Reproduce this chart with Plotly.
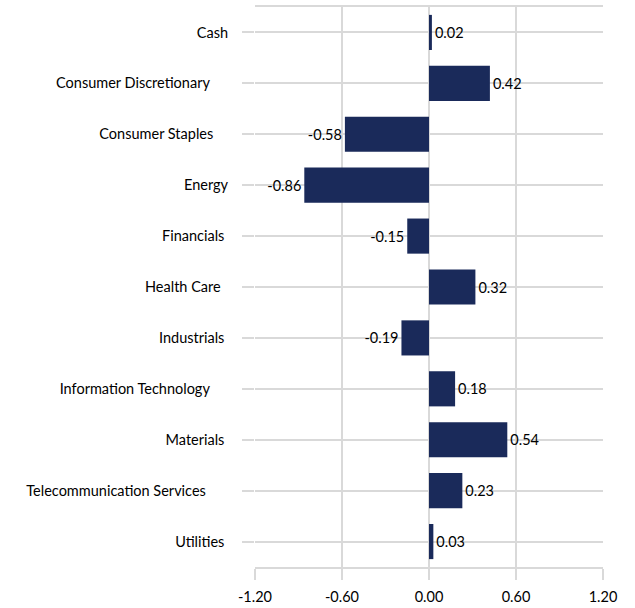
import plotly.graph_objects as go

categories = ["Cash", "Consumer Discretionary", "Consumer Staples", "Energy", "Financials",
              "Health Care", "Industrials", "Information Technology", "Materials",
              "Telecommunication Services", "Utilities"]
trailing_spaces = [0, 5, 4, 0, 1, 2, 1, 5, 1, 6, 1]
values = [0.02, 0.42, -0.58, -0.86, -0.15, 0.32, -0.19, 0.18, 0.54, 0.23, 0.03]
x_ticks = [-1.2, -0.6, 0.0, 0.6, 1.2]

labels = [c + "\u00a0" * n for c, n in zip(categories, trailing_spaces)]
FONT = "Lato"
FS = 14.5
GRID = "#d9d9d9"

fig = go.Figure(go.Bar(
    y=labels, x=values, orientation="h",
    marker=dict(color="#1a2a5a", line=dict(width=0)),
    text=[f"{v:.2f}" for v in values], textposition="outside",
    textfont=dict(family=FONT, size=FS, color="#000000"),
    cliponaxis=False,
))

fig.update_layout(
    width=635, height=608,
    margin=dict(l=255, r=32, t=7, b=41),
    paper_bgcolor="white", plot_bgcolor="white",
    showlegend=False, bargap=0.31,
    font=dict(family=FONT, size=FS, color="#000000"),
    xaxis=dict(range=[-1.2, 1.2], tickvals=x_ticks, ticktext=[f"{t:.2f}" for t in x_ticks],
               showgrid=True, gridcolor=GRID, gridwidth=1.5, zeroline=False,
               ticks="outside", ticklen=11, tickcolor=GRID, tickwidth=1.5,
               ticklabelstandoff=5, automargin=False,
               showline=True, linecolor=GRID, linewidth=1.5, mirror=True,
               tickfont=dict(family=FONT, size=FS, color="#000000")),
    yaxis=dict(autorange="reversed", showgrid=True, gridcolor=GRID, gridwidth=1.5,
               ticks="outside", ticklen=12, tickcolor=GRID, tickwidth=1.5,
               ticklabelstandoff=11, automargin=False,
               showline=False, zeroline=False,
               tickfont=dict(family=FONT, size=FS, color="#000000")),
)

fig.write_html("out.html", config={"displayModeBar": False},
               post_script="document.body.style.margin='0px';")
